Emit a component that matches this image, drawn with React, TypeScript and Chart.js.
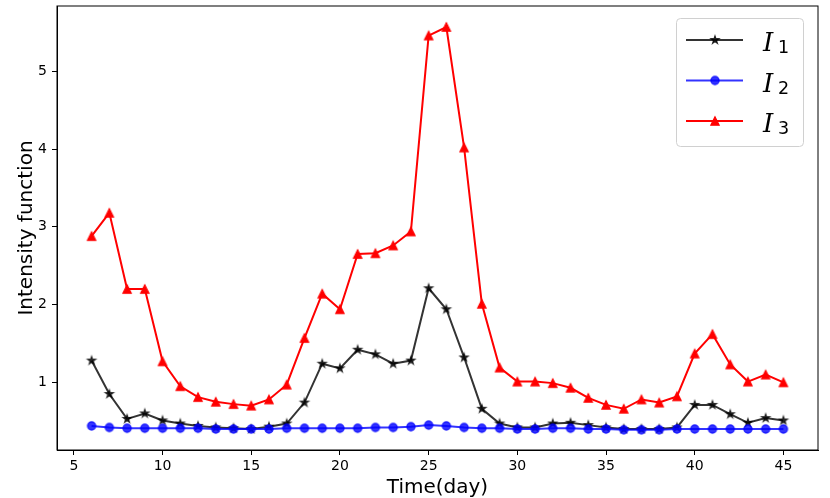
import React, { useEffect, useRef } from 'react';
import { Chart, registerables } from 'chart.js';

Chart.register(...registerables);

// ---------- data ----------
const days = [6, 7, 8, 9, 10, 11, 12, 13, 14, 15, 16, 17, 18, 19, 20, 21, 22, 23, 24, 25, 26, 27, 28, 29, 30, 31, 32, 33, 34, 35, 36, 37, 38, 39, 40, 41, 42, 43, 44, 45];

const intensity1 = [1.28, 0.85, 0.53, 0.60, 0.51, 0.47, 0.44, 0.42, 0.41, 0.40, 0.43, 0.47, 0.74, 1.24, 1.18, 1.42, 1.36, 1.24, 1.28, 2.21, 1.94, 1.32, 0.66, 0.47, 0.42, 0.42, 0.47, 0.48, 0.45, 0.42, 0.40, 0.40, 0.40, 0.42, 0.71, 0.71, 0.59, 0.48, 0.54, 0.51];

const intensity2 = [0.44, 0.42, 0.41, 0.41, 0.41, 0.41, 0.41, 0.40, 0.40, 0.40, 0.40, 0.41, 0.41, 0.41, 0.41, 0.41, 0.42, 0.42, 0.43, 0.45, 0.44, 0.42, 0.41, 0.41, 0.40, 0.40, 0.41, 0.41, 0.40, 0.40, 0.39, 0.39, 0.39, 0.40, 0.40, 0.40, 0.40, 0.40, 0.40, 0.40];

const intensity3 = [2.88, 3.18, 2.20, 2.20, 1.27, 0.95, 0.81, 0.75, 0.72, 0.70, 0.78, 0.97, 1.57, 2.14, 1.94, 2.65, 2.66, 2.76, 2.94, 5.46, 5.57, 4.02, 2.01, 1.19, 1.01, 1.01, 0.99, 0.93, 0.80, 0.71, 0.66, 0.78, 0.74, 0.82, 1.37, 1.62, 1.23, 1.01, 1.10, 1.00];

const xTickValues = [5, 10, 15, 20, 25, 30, 35, 40, 45];
const yTickValues = [1, 2, 3, 4, 5];
const seriesSymbol = 'I';
const seriesSubscripts = ['1', '2', '3'];
const xAxisTitle = 'Time(day)';
const yAxisTitle = 'Intensity function';

// ---------- styling ----------
const FONT = "'DejaVu Sans', sans-serif";
const C1 = 'rgba(0,0,0,0.8)';
const C2 = 'rgba(0,0,255,0.8)';
const C3 = 'rgba(255,0,0,1)';

function makeMarker(kind: 'star' | 'circle' | 'triangle', color: string): HTMLCanvasElement {
  const size = 14;
  const cv = document.createElement('canvas');
  cv.width = size;
  cv.height = size;
  const ctx = cv.getContext('2d')!;
  const c = size / 2;
  const r = 4.15;
  ctx.fillStyle = color;
  ctx.strokeStyle = color;
  ctx.lineWidth = 1.2;
  ctx.lineJoin = 'miter';
  ctx.beginPath();
  if (kind === 'circle') {
    ctx.arc(c, c, r, 0, Math.PI * 2);
  } else if (kind === 'triangle') {
    ctx.moveTo(c, c - r);
    ctx.lineTo(c - r, c + r);
    ctx.lineTo(c + r, c + r);
    ctx.closePath();
  } else {
    const inner = r * 0.381966;
    for (let i = 0; i < 10; i++) {
      const rad = i % 2 === 0 ? r : inner;
      const a = -Math.PI / 2 + (i * Math.PI) / 5;
      const px = c + rad * Math.cos(a);
      const py = c + rad * Math.sin(a);
      if (i === 0) ctx.moveTo(px, py);
      else ctx.lineTo(px, py);
    }
    ctx.closePath();
  }
  ctx.fill();
  ctx.stroke();
  return cv;
}

export default function App() {
  const ref = useRef<HTMLCanvasElement | null>(null);

  useEffect(() => {
    document.body.style.margin = '0';
    const canvas = ref.current;
    if (!canvas) return;

    const m1 = makeMarker('star', C1);
    const m2 = makeMarker('circle', C2);
    const m3 = makeMarker('triangle', C3);

    const toPts = (vals: number[]) => days.map((d, i) => ({ x: d, y: vals[i] }));

    const series = [
      { label: seriesSubscripts[0], color: C1, marker: m1, data: intensity1, order: 3 },
      { label: seriesSubscripts[1], color: C2, marker: m2, data: intensity2, order: 2 },
      { label: seriesSubscripts[2], color: C3, marker: m3, data: intensity3, order: 1 },
    ];

    const decorPlugin = {
      id: 'decor',
      afterDraw(chart: any) {
        const ctx = chart.ctx as CanvasRenderingContext2D;
        const a = chart.chartArea;
        ctx.save();
        // frame
        ctx.strokeStyle = '#000';
        ctx.lineWidth = 1;
        ctx.strokeRect(a.left, a.top, a.right - a.left, a.bottom - a.top);

        // axis titles
        ctx.fillStyle = '#000';
        ctx.font = `20px ${FONT}`;
        ctx.textAlign = 'center';
        ctx.textBaseline = 'alphabetic';
        ctx.fillText(xAxisTitle, (a.left + a.right) / 2, 493);
        ctx.save();
        ctx.translate(32, (a.top + a.bottom) / 2);
        ctx.rotate(-Math.PI / 2);
        ctx.fillText(yAxisTitle, 0, 0);
        ctx.restore();

        // legend
        const bx = 676.5, by = 18.5, bw = 127, bh = 128;
        ctx.beginPath();
        (ctx as any).roundRect(bx, by, bw, bh, 4);
        ctx.fillStyle = 'rgba(255,255,255,0.8)';
        ctx.fill();
        ctx.strokeStyle = '#d0d0d0';
        ctx.lineWidth = 1;
        ctx.stroke();

        series.forEach((s, i) => {
          const cy = 40 + i * 40.5;
          ctx.beginPath();
          ctx.strokeStyle = s.color;
          ctx.lineWidth = 2;
          ctx.moveTo(686, cy);
          ctx.lineTo(743, cy);
          ctx.stroke();
          ctx.drawImage(s.marker, 715 - s.marker.width / 2, cy - s.marker.height / 2);
          ctx.fillStyle = '#000';
          ctx.textAlign = 'left';
          ctx.font = `italic 26px 'DejaVu Serif', serif`;
          ctx.fillText(seriesSymbol, 763, cy + 11);
          ctx.font = `17.5px ${FONT}`;
          ctx.fillText(s.label, 778, cy + 13);
        });
        ctx.restore();
      },
    };

    const chart = new Chart(canvas, {
      type: 'line',
      data: {
        datasets: series.map((s) => ({
          label: s.label,
          data: toPts(s.data),
          borderColor: s.color,
          backgroundColor: s.color,
          borderWidth: 2,
          pointStyle: s.marker as any,
          pointRadius: 4,
          pointHoverRadius: 4,
          tension: 0,
          fill: false,
          order: s.order,
        })),
      },
      options: {
        animation: false,
        responsive: true,
        maintainAspectRatio: false,
        layout: { padding: { top: 5, right: 12, left: 0, bottom: 0 } },
        plugins: {
          legend: { display: false },
          tooltip: { enabled: false },
        },
        scales: {
          x: {
            type: 'linear',
            min: 4.05,
            max: 46.95,
            afterFit: (scale: any) => {
              scale.height = 48;
              scale.paddingLeft = 0;
              scale.paddingRight = 0;
            },
            afterBuildTicks: (scale: any) => {
              scale.ticks = xTickValues.map((v) => ({ value: v }));
            },
            grid: { display: true, drawOnChartArea: false, drawTicks: true, tickLength: 5, color: '#000', lineWidth: 1 },
            border: { display: true, color: '#000', width: 1 },
            ticks: { color: '#000', font: { family: FONT, size: 14 }, padding: 3, maxRotation: 0, autoSkip: false },
          },
          y: {
            type: 'linear',
            min: 0.13,
            max: 5.84,
            afterFit: (scale: any) => {
              scale.width = 57;
              scale.paddingTop = 0;
              scale.paddingBottom = 0;
            },
            afterBuildTicks: (scale: any) => {
              scale.ticks = yTickValues.map((v) => ({ value: v }));
            },
            grid: { display: true, drawOnChartArea: false, drawTicks: true, tickLength: 5, color: '#000', lineWidth: 1 },
            border: { display: true, color: '#000', width: 1 },
            ticks: { color: '#000', font: { family: FONT, size: 14 }, padding: 5, autoSkip: false },
          },
        },
      },
      plugins: [decorPlugin],
    });

    return () => chart.destroy();
  }, []);

  return (
    <div style={{ position: 'relative', width: 830, height: 498 }}>
      <canvas ref={ref} />
    </div>
  );
}
